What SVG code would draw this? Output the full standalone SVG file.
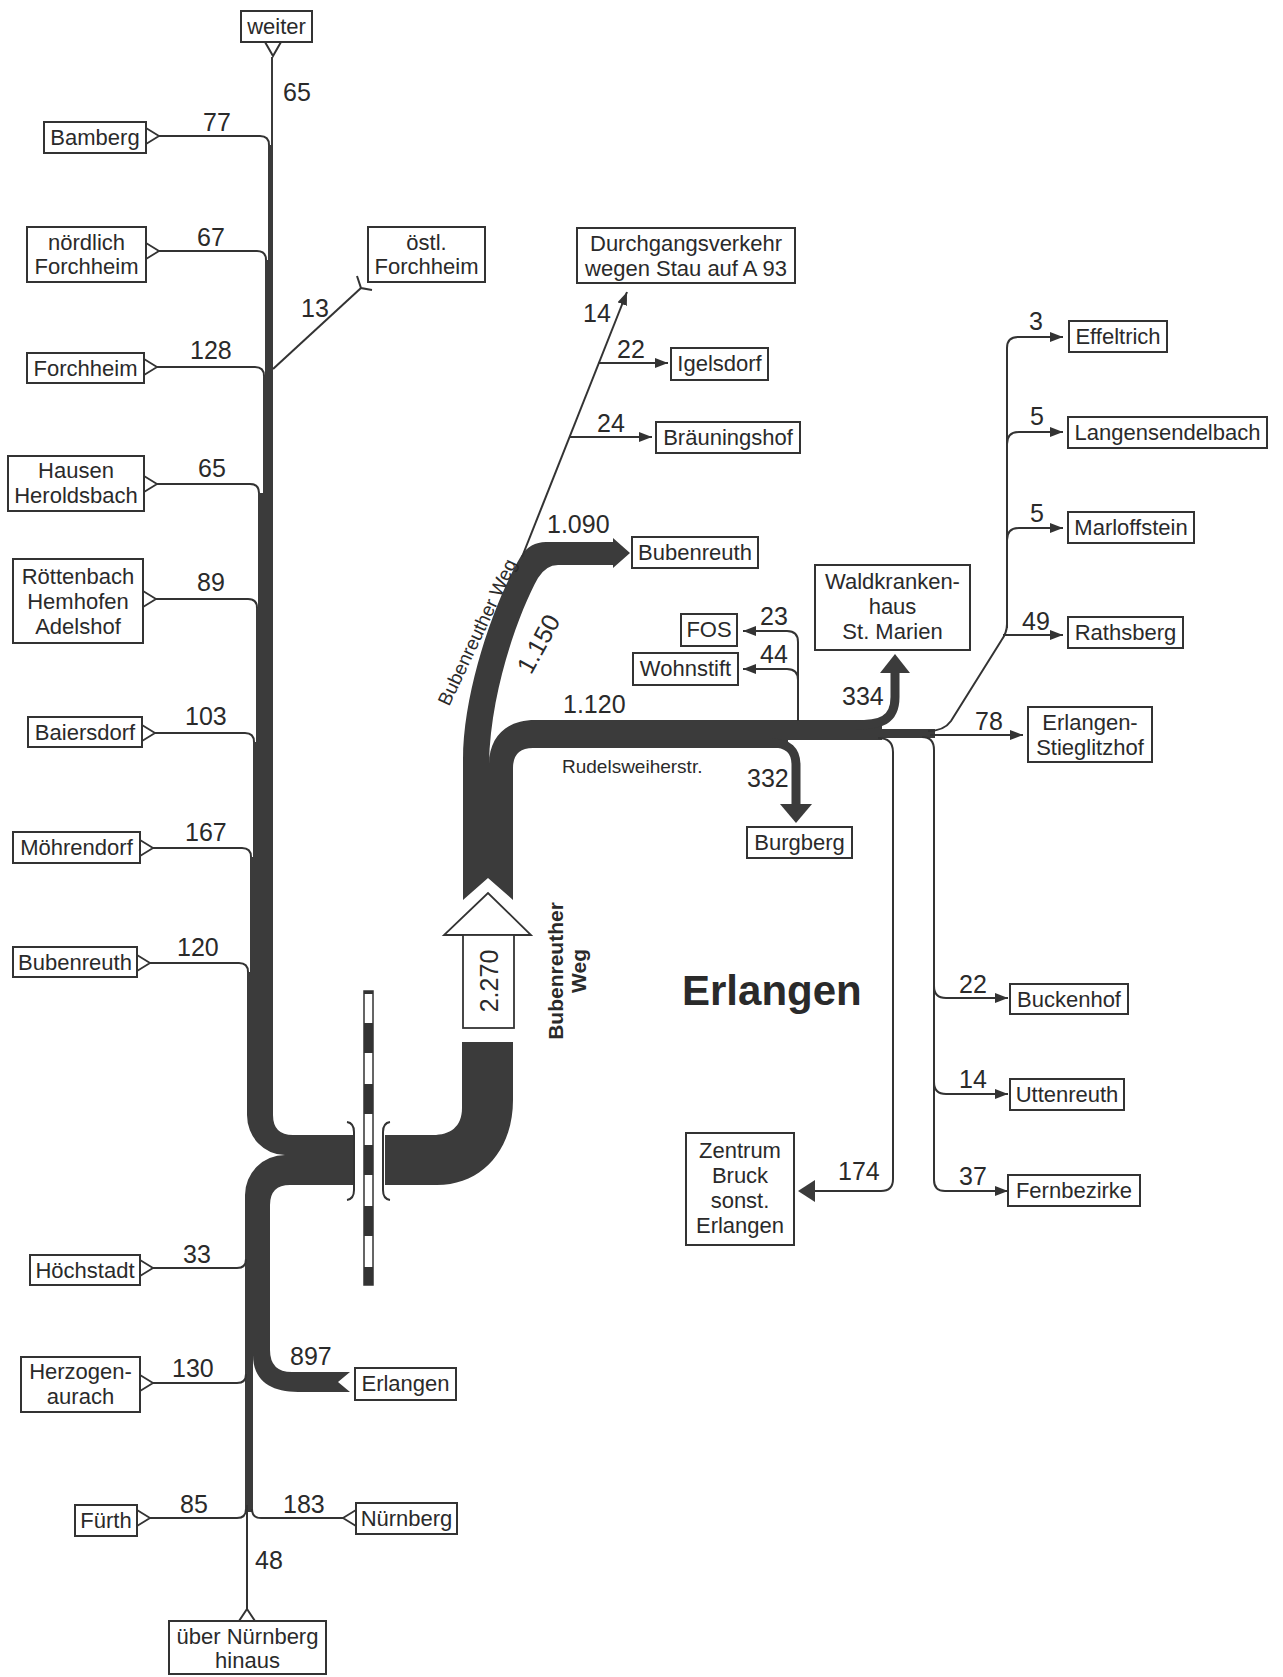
<svg xmlns="http://www.w3.org/2000/svg" width="1283" height="1677" viewBox="0 0 1283 1677">
<style>
.box{fill:#fff;stroke:#333;stroke-width:2}
.lbl{font-family:"Liberation Sans",Arial,sans-serif;font-size:22px;fill:#2a2a2a;text-anchor:middle}
.num{font-family:"Liberation Sans",Arial,sans-serif;font-size:25px;fill:#2a2a2a}
.band{fill:#3b3b3b}
.ln{fill:none;stroke:#333;stroke-width:2}
.tri{fill:#fff;stroke:#333;stroke-width:1.8;stroke-linejoin:miter}
.thick{fill:none;stroke:#3b3b3b}
</style>
<defs>
<marker id="ah" markerWidth="13" markerHeight="10" refX="13" refY="5" orient="auto" markerUnits="userSpaceOnUse"><path d="M0,0 L13,5 L0,10 Z" fill="#333"/></marker>
</defs>
<rect width="1283" height="1677" fill="#fff"/>

<g id="connectors">
  <!-- main trunk west + merge + southern trunk + 897 band -->
  <path class="band" d="M 271,57 H 273 V 1115 Q 273,1135 293,1135 H 353 V 1185 H 290 Q 270,1185 270,1205 V 1350 Q 270,1372 292,1372 H 350 L 338,1382 L 350,1392 H 298 C 270,1392 253,1380 253,1355 V 1512 H 245 V 1195 A 40 40 0 0 1 285 1155 A 38 40 0 0 1 247 1115 V 972 H 250 V 857 H 253 V 742 H 256 V 608 H 258 V 493 H 263 V 376 H 265 V 260 H 268 V 145 H 271 Z"/>
  <!-- east of crossing -->
  <path class="band" d="M 385,1135 H 433 C 450,1135 462,1127 462,1108 V 1042 H 513 V 1100 C 513,1150 482,1185 437,1185 H 385 Z"/>
  <!-- upper Bubenreuther Weg, 1.150 and 1.120 bands -->
  <path class="band" d="M 463,900 V 760 C 463,690 495,600 521,556 Q 530,542 546,542 H 613 V 538 L 630,553 L 613,568 V 565 H 558 Q 546,565 538,578 C 520,610 490,690 489,765 C 489,737 506,720 535,720 H 882 V 729 H 935 V 738 H 882 V 740 H 788 V 748 H 533 Q 513,748 513,768 V 900 L 488,878 Z"/>

  <!-- railway crossing -->
  <rect x="364" y="991" width="9" height="294" fill="#fff" stroke="#333" stroke-width="1.5"/>
  <g fill="#333">
    <rect x="364" y="991" width="9" height="3"/>
    <rect x="364" y="1023" width="9" height="30"/>
    <rect x="364" y="1084" width="9" height="30"/>
    <rect x="364" y="1145" width="9" height="30"/>
    <rect x="364" y="1206" width="9" height="30"/>
    <rect x="364" y="1267" width="9" height="18"/>
  </g>
  <path class="ln" d="M 347,1122 Q 354,1123 354,1132 V 1190 Q 354,1199 347,1200"/>
  <path class="ln" d="M 390,1122 Q 383,1123 383,1132 V 1190 Q 383,1199 390,1200"/>

  <!-- 2.270 arrow -->
  <polygon points="444,935 531,935 488,893" fill="#fff" stroke="#333" stroke-width="1.8"/>
  <rect x="463" y="935" width="51" height="93" fill="#fff" stroke="#333" stroke-width="1.8"/>

  <!-- west branches (sources) -->
  <path class="ln" d="M 159,136 H 260 Q 269,136 269,145"/>
  <path class="ln" d="M 159,251 H 257 Q 266,251 266,260"/>
  <path class="ln" d="M 157,367 H 255 Q 264,367 264,376"/>
  <path class="ln" d="M 157,484 H 250 Q 259,484 259,493"/>
  <path class="ln" d="M 156,599 H 248 Q 257,599 257,608"/>
  <path class="ln" d="M 155,733 H 245 Q 254,733 254,742"/>
  <path class="ln" d="M 153,848 H 242 Q 251,848 251,857"/>
  <path class="ln" d="M 150,963 H 239 Q 248,963 248,972"/>
  <path class="ln" d="M 273,369 L 361,288"/>
  <polyline class="ln" points="357,276 361,288 372,290"/>
  <polyline class="ln" points="265,42 273,56 281,42"/>

  <path class="ln" d="M 153,1268 H 237 Q 246,1268 246,1259"/>
  <path class="ln" d="M 153,1383 H 237 Q 246,1383 246,1374"/>
  <path class="ln" d="M 150,1518 H 237 Q 246,1518 246,1509"/>
  <path class="ln" d="M 343,1518 H 261 Q 252,1518 252,1509"/>
  <path class="ln" d="M 247,1609 V 1505"/>
  <polyline class="ln" points="239,1621 247,1609 255,1621"/>

  <!-- source triangles -->
  <polyline class="tri" points="146,128 159,136 146,144"/>
  <polyline class="tri" points="146,243 159,251 146,259"/>
  <polyline class="tri" points="144,359 157,367 144,375"/>
  <polyline class="tri" points="144,476 157,484 144,492"/>
  <polyline class="tri" points="143,591 156,599 143,607"/>
  <polyline class="tri" points="142,725 155,733 142,741"/>
  <polyline class="tri" points="140,840 153,848 140,856"/>
  <polyline class="tri" points="137,955 150,963 137,971"/>
  <polyline class="tri" points="140,1260 153,1268 140,1276"/>
  <polyline class="tri" points="140,1375 153,1383 140,1391"/>
  <polyline class="tri" points="137,1510 150,1518 137,1526"/>
  <polyline class="tri" points="356,1510 343,1518 356,1526"/>

  <!-- north-east thin branches -->
  <path class="ln" d="M 522,557 L 627,292" stroke-width="1.8" marker-end="url(#ah)"/>
  <path class="ln" d="M 598,363 H 668" marker-end="url(#ah)"/>
  <path class="ln" d="M 570,437 H 652" marker-end="url(#ah)"/>

  <!-- FOS / Wohnstift -->
  <path class="ln" d="M 798,721 V 642 Q 798,631 787,631 H 743" marker-end="url(#ah)"/>
  <path class="ln" d="M 798,680 Q 798,669 787,669 H 743" marker-end="url(#ah)"/>

  <!-- 334 Waldkrankenhaus -->
  <path class="thick" stroke-width="9" d="M 855,725 C 880,725 895,721 895,697 V 670"/>
  <polygon class="band" points="880,673 910,673 895,654"/>
  <!-- 332 Burgberg -->
  <path class="thick" stroke-width="9" d="M 772,743 Q 796,743 796,765 V 806"/>
  <polygon class="band" points="780,804 812,804 796,823"/>

  <!-- 174 Zentrum -->
  <path class="ln" stroke-width="3.5" d="M 878,738 Q 893,738 893,752 V 1179 Q 893,1191 881,1191 H 812"/>
  <polygon class="band" points="815,1180 815,1202 798,1191"/>

  <!-- southern group -->
  <path class="ln" stroke-width="2.5" d="M 922,737 Q 934,737 934,750 V 1180 Q 934,1191 945,1191 H 1008" marker-end="url(#ah)"/>
  <path class="ln" d="M 934,986 Q 934,998 946,998 H 1008" marker-end="url(#ah)"/>
  <path class="ln" d="M 934,1082 Q 934,1094 946,1094 H 1008" marker-end="url(#ah)"/>

  <!-- 78 Stieglitzhof -->
  <path class="ln" d="M 930,735 H 1023" marker-end="url(#ah)"/>

  <!-- north-east diagonal -->
  <path class="ln" stroke-width="3" d="M 928,731 Q 944,731 951,721 L 1001,641 Q 1007,633 1007,624"/>
  <path class="ln" d="M 1007,628 V 348 Q 1007,337 1018,337 H 1063" marker-end="url(#ah)"/>
  <path class="ln" d="M 1007,444 Q 1007,432 1019,432 H 1063" marker-end="url(#ah)"/>
  <path class="ln" d="M 1007,540 Q 1007,528 1019,528 H 1063" marker-end="url(#ah)"/>
  <path class="ln" stroke-width="2.5" d="M 1003,635 H 1063" marker-end="url(#ah)"/>
</g>

<!-- flow numbers -->
<g id="flow-values" class="num">
  <text x="283" y="101">65</text>
  <text x="203" y="131">77</text>
  <text x="197" y="246">67</text>
  <text x="301" y="317">13</text>
  <text x="190" y="359">128</text>
  <text x="198" y="477">65</text>
  <text x="197" y="591">89</text>
  <text x="185" y="725">103</text>
  <text x="185" y="841">167</text>
  <text x="177" y="956">120</text>
  <text x="183" y="1263">33</text>
  <text x="172" y="1377">130</text>
  <text x="180" y="1513">85</text>
  <text x="283" y="1513">183</text>
  <text x="255" y="1569">48</text>
  <text x="290" y="1365">897</text>
  <text x="583" y="322">14</text>
  <text x="617" y="358">22</text>
  <text x="597" y="432">24</text>
  <text x="547" y="533">1.090</text>
  <text x="563" y="713">1.120</text>
  <text x="760" y="625">23</text>
  <text x="760" y="663">44</text>
  <text x="842" y="705">334</text>
  <text x="747" y="787">332</text>
  <text x="1029" y="330">3</text>
  <text x="1030" y="425">5</text>
  <text x="1030" y="522">5</text>
  <text x="1022" y="630">49</text>
  <text x="975" y="730">78</text>
  <text x="959" y="993">22</text>
  <text x="959" y="1088">14</text>
  <text x="959" y="1185">37</text>
  <text x="838" y="1180">174</text>
  <text transform="translate(546,648) rotate(-61.3)" text-anchor="middle">1.150</text>
  <text transform="translate(498,981) rotate(-90)" text-anchor="middle">2.270</text>
</g>

<g id="street-labels" font-family="'Liberation Sans',Arial,sans-serif" fill="#2a2a2a">
  <text transform="translate(483,635) rotate(-64.7)" text-anchor="middle" font-size="19">Bubenreuther Weg</text>
  <text x="562" y="773" font-size="19">Rudelsweiherstr.</text>
  <text transform="translate(563,971) rotate(-90)" text-anchor="middle" font-size="21" font-weight="bold">Bubenreuther</text>
  <text transform="translate(586,971) rotate(-90)" text-anchor="middle" font-size="21" font-weight="bold">Weg</text>
  <text x="682" y="1005" font-size="42" font-weight="bold">Erlangen</text>
</g>

<!-- nodes -->
<g id="n-weiter"><rect class="box" x="241" y="11" width="71" height="31"/><text class="lbl" x="276.5" y="34">weiter</text></g>
<g id="n-bamberg"><rect class="box" x="44" y="122" width="102" height="31"/><text class="lbl" x="95" y="145">Bamberg</text></g>
<g id="n-noerdlich-forchheim"><rect class="box" x="27" y="227" width="119" height="55"/><text class="lbl" x="86.5" y="250">nördlich</text><text class="lbl" x="86.5" y="274">Forchheim</text></g>
<g id="n-forchheim"><rect class="box" x="27" y="353" width="117" height="30"/><text class="lbl" x="85.5" y="376">Forchheim</text></g>
<g id="n-oestl-forchheim"><rect class="box" x="368" y="227" width="117" height="55"/><text class="lbl" x="426.5" y="250">östl.</text><text class="lbl" x="426.5" y="274">Forchheim</text></g>
<g id="n-hausen"><rect class="box" x="8" y="456" width="136" height="55"/><text class="lbl" x="76" y="478">Hausen</text><text class="lbl" x="76" y="503">Heroldsbach</text></g>
<g id="n-roettenbach"><rect class="box" x="13" y="559" width="130" height="84"/><text class="lbl" x="78" y="584">Röttenbach</text><text class="lbl" x="78" y="609">Hemhofen</text><text class="lbl" x="78" y="634">Adelshof</text></g>
<g id="n-baiersdorf"><rect class="box" x="28" y="717" width="114" height="30"/><text class="lbl" x="85" y="740">Baiersdorf</text></g>
<g id="n-moehrendorf"><rect class="box" x="13" y="832" width="127" height="31"/><text class="lbl" x="76.5" y="855">Möhrendorf</text></g>
<g id="n-bubenreuth-west"><rect class="box" x="13" y="947" width="124" height="30"/><text class="lbl" x="75" y="970">Bubenreuth</text></g>
<g id="n-hoechstadt"><rect class="box" x="30" y="1255" width="110" height="30"/><text class="lbl" x="85" y="1278">Höchstadt</text></g>
<g id="n-herzogenaurach"><rect class="box" x="21" y="1357" width="119" height="55"/><text class="lbl" x="80.5" y="1379">Herzogen-</text><text class="lbl" x="80.5" y="1404">aurach</text></g>
<g id="n-fuerth"><rect class="box" x="75" y="1505" width="62" height="31"/><text class="lbl" x="106" y="1528">Fürth</text></g>
<g id="n-nuernberg"><rect class="box" x="356" y="1503" width="101" height="31"/><text class="lbl" x="406.5" y="1526">Nürnberg</text></g>
<g id="n-ueber-nuernberg"><rect class="box" x="169" y="1621" width="157" height="53"/><text class="lbl" x="247.5" y="1644">über Nürnberg</text><text class="lbl" x="247.5" y="1668">hinaus</text></g>
<g id="n-erlangen-south"><rect class="box" x="355" y="1368" width="101" height="32"/><text class="lbl" x="405.5" y="1391">Erlangen</text></g>

<g id="n-durchgang"><rect class="box" x="577" y="228" width="218" height="55"/><text class="lbl" x="686" y="251" font-size="21">Durchgangsverkehr</text><text class="lbl" x="686" y="276" font-size="21">wegen Stau auf A 93</text></g>
<g id="n-igelsdorf"><rect class="box" x="671" y="348" width="97" height="32"/><text class="lbl" x="719.5" y="371">Igelsdorf</text></g>
<g id="n-braeuningshof"><rect class="box" x="656" y="422" width="144" height="31"/><text class="lbl" x="728" y="445">Bräuningshof</text></g>
<g id="n-bubenreuth-east"><rect class="box" x="632" y="537" width="126" height="31"/><text class="lbl" x="695" y="560">Bubenreuth</text></g>
<g id="n-fos"><rect class="box" x="681" y="614" width="56" height="32"/><text class="lbl" x="709" y="637">FOS</text></g>
<g id="n-wohnstift"><rect class="box" x="633" y="653" width="105" height="32"/><text class="lbl" x="685.5" y="676">Wohnstift</text></g>
<g id="n-waldkrankenhaus"><rect class="box" x="815" y="565" width="155" height="85"/><text class="lbl" x="892.5" y="589">Waldkranken-</text><text class="lbl" x="892.5" y="614">haus</text><text class="lbl" x="892.5" y="639">St. Marien</text></g>
<g id="n-burgberg"><rect class="box" x="747" y="827" width="105" height="31"/><text class="lbl" x="799.5" y="850">Burgberg</text></g>
<g id="n-effeltrich"><rect class="box" x="1069" y="321" width="98" height="31"/><text class="lbl" x="1118" y="344">Effeltrich</text></g>
<g id="n-langensendelbach"><rect class="box" x="1068" y="417" width="199" height="31"/><text class="lbl" x="1167.5" y="440">Langensendelbach</text></g>
<g id="n-marloffstein"><rect class="box" x="1068" y="512" width="126" height="31"/><text class="lbl" x="1131" y="535">Marloffstein</text></g>
<g id="n-rathsberg"><rect class="box" x="1068" y="617" width="115" height="31"/><text class="lbl" x="1125.5" y="640">Rathsberg</text></g>
<g id="n-stieglitzhof"><rect class="box" x="1028" y="707" width="124" height="55"/><text class="lbl" x="1090" y="730">Erlangen-</text><text class="lbl" x="1090" y="755">Stieglitzhof</text></g>
<g id="n-buckenhof"><rect class="box" x="1010" y="984" width="118" height="30"/><text class="lbl" x="1069" y="1007">Buckenhof</text></g>
<g id="n-uttenreuth"><rect class="box" x="1010" y="1079" width="114" height="31"/><text class="lbl" x="1067" y="1102">Uttenreuth</text></g>
<g id="n-fernbezirke"><rect class="box" x="1008" y="1175" width="132" height="31"/><text class="lbl" x="1074" y="1198">Fernbezirke</text></g>
<g id="n-zentrum"><rect class="box" x="686" y="1133" width="108" height="112"/><text class="lbl" x="740" y="1158">Zentrum</text><text class="lbl" x="740" y="1183">Bruck</text><text class="lbl" x="740" y="1208">sonst.</text><text class="lbl" x="740" y="1233">Erlangen</text></g>
</svg>
